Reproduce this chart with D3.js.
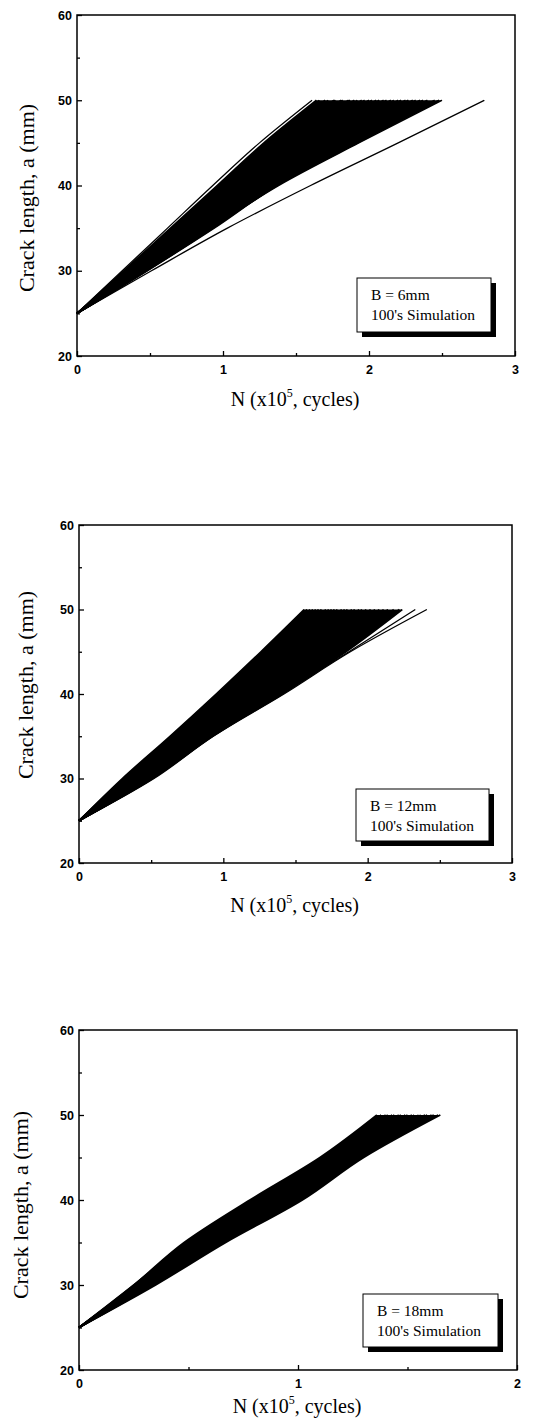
<!DOCTYPE html>
<html><head><meta charset="utf-8">
<script src="https://cdn.jsdelivr.net/npm/d3@7"></script>
<style>
html,body{margin:0;padding:0;background:#fff;}
svg{display:block;}
</style>
</head><body>
<svg id="chart" width="552" height="1420"></svg>
<script>
// ---------- DATA ----------
// crack length levels (mm) at which each simulated curve's N (x10^5 cycles) is read
const A_LEVELS = [25, 30, 35, 40, 45, 50];
const Y_TICKS = [20, 30, 40, 50, 60];
const Y_MINOR = [25, 35, 45, 55];
const X_TICKS_3 = [0, 1, 2, 3];
const X_MINOR_3 = [0.5, 1.5, 2.5];
const X_TICKS_2 = [0, 1, 2];
const X_MINOR_2 = [0.5, 1.5];
const Y_TITLE = "Crack length, a (mm)";
const LEGEND_B = ["B = 6mm", "B = 12mm", "B = 18mm"];
const LEGEND_SIM = "100's Simulation";

// N at a = 25,30,35,40,45,50 for each simulated curve (main bundle)
const CURVES_B6 = [
  [0,0.32,0.64,0.96,1.28,1.64],[0,0.33,0.65,0.98,1.31,1.66],
  [0,0.34,0.66,1.00,1.33,1.70],[0,0.34,0.67,1.01,1.36,1.72],[0,0.35,0.68,1.02,1.37,1.76],
  [0,0.35,0.68,1.03,1.40,1.77],[0,0.35,0.69,1.05,1.40,1.81],[0,0.36,0.70,1.05,1.43,1.82],
  [0,0.36,0.71,1.07,1.44,1.86],[0,0.37,0.72,1.07,1.47,1.87],[0,0.37,0.73,1.09,1.47,1.90],
  [0,0.38,0.74,1.09,1.51,1.92],[0,0.38,0.75,1.12,1.52,1.95],[0,0.39,0.76,1.12,1.54,1.97],
  [0,0.39,0.77,1.14,1.55,2.00],[0,0.40,0.78,1.14,1.58,2.02],[0,0.40,0.78,1.16,1.59,2.05],
  [0,0.41,0.79,1.17,1.62,2.07],[0,0.41,0.80,1.19,1.63,2.10],[0,0.42,0.81,1.19,1.66,2.12],
  [0,0.42,0.82,1.21,1.67,2.15],[0,0.43,0.83,1.21,1.70,2.17],[0,0.43,0.84,1.23,1.71,2.20],
  [0,0.44,0.85,1.24,1.73,2.22],[0,0.44,0.86,1.26,1.74,2.25],[0,0.45,0.86,1.26,1.77,2.27],
  [0,0.45,0.87,1.28,1.78,2.30],[0,0.46,0.88,1.29,1.81,2.32],[0,0.46,0.89,1.31,1.82,2.35],
  [0,0.46,0.90,1.31,1.85,2.37],[0,0.47,0.91,1.33,1.86,2.40],[0,0.48,0.93,1.35,1.90,2.45],
  [0,0.47,0.92,1.38,1.93,2.50],[0,0.48,0.94,1.37,1.92,2.48]
];
// isolated (stray) curves drawn as thin lines
const STRAY_B6 = [[0,0.31,0.62,0.93,1.25,1.61],[0,0.51,1.03,1.60,2.20,2.79]];

const CURVES_B12 = [
  [0,0.30,0.63,0.95,1.26,1.56],[0,0.31,0.64,0.97,1.28,1.58],[0,0.31,0.65,0.98,1.30,1.60],
  [0,0.32,0.66,1.00,1.32,1.62],[0,0.33,0.67,1.01,1.34,1.64],[0,0.33,0.68,1.03,1.35,1.66],
  [0,0.34,0.69,1.04,1.37,1.68],[0,0.35,0.70,1.06,1.39,1.71],[0,0.35,0.71,1.07,1.41,1.73],
  [0,0.36,0.72,1.09,1.43,1.75],[0,0.37,0.73,1.10,1.45,1.77],[0,0.38,0.74,1.12,1.47,1.79],
  [0,0.38,0.75,1.13,1.49,1.82],[0,0.39,0.76,1.15,1.51,1.84],[0,0.40,0.77,1.16,1.53,1.86],
  [0,0.40,0.78,1.18,1.55,1.89],[0,0.41,0.79,1.20,1.57,1.91],[0,0.42,0.81,1.21,1.59,1.94],
  [0,0.43,0.82,1.23,1.61,1.96],[0,0.44,0.83,1.25,1.63,1.99],[0,0.45,0.84,1.27,1.66,2.02],
  [0,0.46,0.86,1.29,1.68,2.05],[0,0.47,0.87,1.31,1.71,2.08],[0,0.48,0.88,1.33,1.73,2.11],
  [0,0.49,0.90,1.35,1.76,2.14],[0,0.49,0.91,1.36,1.78,2.18],[0,0.50,0.92,1.38,1.80,2.22],
  [0,0.51,0.92,1.41,1.85,2.24]
];
const STRAY_B12 = [[0,0.51,0.93,1.40,1.87,2.33],[0,0.52,0.93,1.42,1.88,2.41]];

const CURVES_B18 = [
  [0,0.25,0.48,0.78,1.10,1.36],[0,0.25,0.49,0.79,1.11,1.38],[0,0.26,0.50,0.80,1.12,1.40],
  [0,0.26,0.51,0.81,1.13,1.41],[0,0.27,0.52,0.82,1.14,1.43],[0,0.27,0.53,0.83,1.15,1.44],
  [0,0.28,0.54,0.85,1.16,1.46],[0,0.28,0.55,0.86,1.17,1.47],[0,0.29,0.56,0.87,1.18,1.49],
  [0,0.29,0.57,0.88,1.19,1.50],[0,0.30,0.58,0.89,1.20,1.52],[0,0.30,0.59,0.91,1.21,1.53],
  [0,0.31,0.60,0.92,1.22,1.55],[0,0.31,0.61,0.93,1.23,1.56],[0,0.32,0.62,0.94,1.24,1.58],
  [0,0.32,0.63,0.96,1.25,1.59],[0,0.33,0.64,0.97,1.26,1.61],[0,0.34,0.65,0.99,1.27,1.62],
  [0,0.34,0.66,1.00,1.28,1.64],[0,0.35,0.67,1.02,1.30,1.65]
];
const STRAY_B18 = [];

// ---------- DRAW ----------
const svg = d3.select("#chart");
const serif = "'Liberation Serif','Times New Roman',serif";
const sans = "'Liberation Sans',Arial,sans-serif";

const panels = [
  {curves: CURVES_B6, stray: STRAY_B6, xMax: 3, xt: X_TICKS_3, xm: X_MINOR_3, l: 77, r: 515, t: 15, b: 356,
   leg: {x: 357, y: 278, w: 134, h: 54}, label: LEGEND_B[0], yt: {x: 26, y: 198}, xtY: 406},
  {curves: CURVES_B12, stray: STRAY_B12, xMax: 3, xt: X_TICKS_3, xm: X_MINOR_3, l: 79, r: 512, t: 525, b: 863,
   leg: {x: 356, y: 789, w: 133, h: 52}, label: LEGEND_B[1], yt: {x: 25, y: 685}, xtY: 912},
  {curves: CURVES_B18, stray: STRAY_B18, xMax: 2, xt: X_TICKS_2, xm: X_MINOR_2, l: 79, r: 517, t: 1030, b: 1370,
   leg: {x: 363, y: 1294, w: 135, h: 53}, label: LEGEND_B[2], yt: {x: 20, y: 1205}, xtY: 1413}
];

panels.forEach(p => {
  const x = d3.scaleLinear().domain([0, p.xMax]).range([p.l, p.r]);
  const y = d3.scaleLinear().domain([20, 60]).range([p.b, p.t]);
  const g = svg.append("g");

  const line = d3.line()
    .x(d => x(d[0])).y(d => y(d[1]))
    .curve(d3.curveMonotoneY);
  const toPts = c => c.map((n, i) => [n, A_LEVELS[i]]);

  // envelope of the bundle (solid black band)
  const env = A_LEVELS.map((a, i) => ({
    a, lo: d3.min(p.curves, c => c[i]), hi: d3.max(p.curves, c => c[i])
  }));
  g.append("path").datum(env)
    .attr("d", d3.area().curve(d3.curveMonotoneY)
      .y(d => y(d.a)).x0(d => x(d.lo)).x1(d => x(d.hi)))
    .attr("fill", "#000");

  // main bundle of simulated curves
  g.append("g").selectAll("path").data(p.curves).join("path")
    .attr("d", c => line(toPts(c)))
    .attr("fill", "none").attr("stroke", "#000").attr("stroke-width", 1.6)
    .attr("stroke-linejoin", "round");
  // stray curves
  g.append("g").selectAll("path").data(p.stray).join("path")
    .attr("d", c => line(toPts(c)))
    .attr("fill", "none").attr("stroke", "#000").attr("stroke-width", 1.3)
    .attr("stroke-linejoin", "round");

  // frame
  g.append("rect").attr("x", p.l).attr("y", p.t)
    .attr("width", p.r - p.l).attr("height", p.b - p.t)
    .attr("fill", "none").attr("stroke", "#000").attr("stroke-width", 1.5);

  // axes
  const ya = g.append("g").attr("transform", `translate(${p.l},0)`)
    .call(d3.axisLeft(y).tickValues(Y_TICKS).tickSize(-5).tickPadding(5).tickFormat(d3.format("d")));
  const yb = g.append("g").attr("transform", `translate(${p.l},0)`)
    .call(d3.axisLeft(y).tickValues(Y_MINOR).tickSize(-3).tickFormat(""));
  const xa = g.append("g").attr("transform", `translate(0,${p.b})`)
    .call(d3.axisBottom(x).tickValues(p.xt).tickSize(-5).tickPadding(9).tickFormat(d3.format("d")));
  const xb = g.append("g").attr("transform", `translate(0,${p.b})`)
    .call(d3.axisBottom(x).tickValues(p.xm).tickSize(-3).tickFormat(""));
  [ya, yb, xa, xb].forEach(a => {
    a.select(".domain").remove();
    a.selectAll("line").attr("stroke", "#000").attr("stroke-width", 1.3);
    a.selectAll("text").attr("font-family", sans).attr("font-weight", "bold")
      .attr("font-size", 12.5).attr("fill", "#000");
  });

  // legend box with shadow
  const L = p.leg;
  g.append("rect").attr("x", L.x + 5).attr("y", L.y + 5).attr("width", L.w).attr("height", L.h).attr("fill", "#000");
  g.append("rect").attr("x", L.x).attr("y", L.y).attr("width", L.w).attr("height", L.h)
    .attr("fill", "#fff").attr("stroke", "#000").attr("stroke-width", 1);
  g.append("text").attr("x", L.x + 14).attr("y", L.y + 22).text(p.label)
    .attr("font-family", serif).attr("font-size", 15.5).attr("fill", "#000");
  g.append("text").attr("x", L.x + 14).attr("y", L.y + 42).text(LEGEND_SIM)
    .attr("font-family", serif).attr("font-size", 15.5).attr("fill", "#000");

  // y title
  g.append("text").attr("transform", `translate(${p.yt.x},${p.yt.y}) rotate(-90)`)
    .attr("text-anchor", "middle").attr("dy", "0.35em")
    .attr("font-family", serif).attr("font-size", 22).attr("fill", "#000").text(Y_TITLE);

  // x title with superscript
  const xtTxt = g.append("text").attr("x", (p.l + p.r) / 2 - 1).attr("y", p.xtY)
    .attr("text-anchor", "middle").attr("font-family", serif).attr("font-size", 20).attr("fill", "#000");
  xtTxt.append("tspan").text("N (x10");
  xtTxt.append("tspan").attr("dy", -9).attr("font-size", 12).text("5");
  xtTxt.append("tspan").attr("dy", 9).text(", cycles)");
});
</script>
</body></html>
